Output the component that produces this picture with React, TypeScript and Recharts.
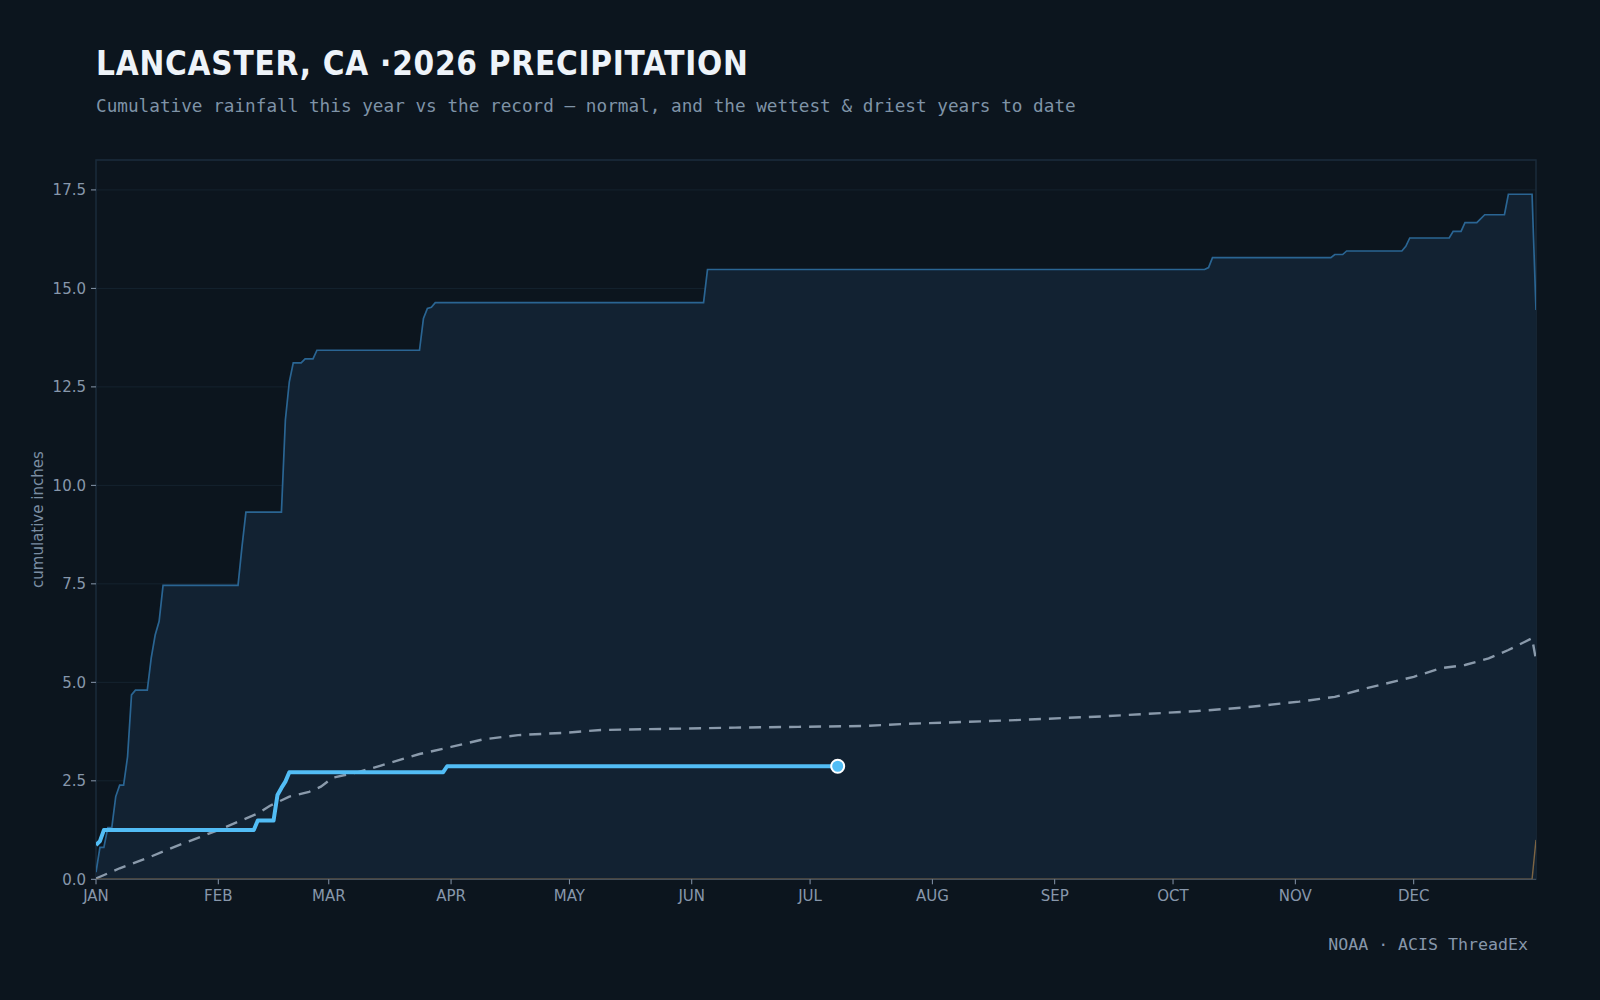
import React from 'react';
import {
  ComposedChart,
  Area,
  Line,
  XAxis,
  YAxis,
  CartesianGrid,
  ReferenceArea,
} from 'recharts';

// Day-of-year (0 = Jan 1) where each month starts, and the month labels.
const monthStarts = [0, 31, 59, 90, 120, 151, 181, 212, 243, 273, 304, 334];
const monthLabels = ['JAN', 'FEB', 'MAR', 'APR', 'MAY', 'JUN', 'JUL', 'AUG', 'SEP', 'OCT', 'NOV', 'DEC'];
const inchTicks = [0, 2.5, 5, 7.5, 10, 12.5, 15, 17.5];

// Wettest year on record, cumulative inches at each change of slope.
const wettestDays = [
  0, 1, 2, 3, 4, 5, 6, 7, 8, 9, 10, 13, 14, 15, 16, 17, 36, 37, 38, 47, 48, 49, 50, 52, 53, 55, 56,
  82, 83, 84, 85, 86, 154, 155, 281, 282, 283, 313, 314, 316, 317, 331, 332, 333, 343, 344, 346,
  347, 350, 352, 357, 358, 364, 365,
];
const wettestInches = [
  0.18, 0.81, 0.81, 1.31, 1.31, 2.1, 2.39, 2.39, 3.11, 4.68, 4.8, 4.8, 5.62, 6.2, 6.55, 7.46, 7.46,
  8.44, 9.32, 9.32, 11.66, 12.63, 13.11, 13.11, 13.21, 13.21, 13.43, 13.43, 14.24, 14.49, 14.52,
  14.64, 14.64, 15.48, 15.48, 15.53, 15.78, 15.78, 15.86, 15.86, 15.95, 15.95, 16.07, 16.28, 16.28,
  16.45, 16.45, 16.67, 16.67, 16.87, 16.87, 17.39, 17.39, 14.45,
];

// Normal (average) cumulative precipitation.
const normalDays = [
  0, 6, 14, 21, 31, 41, 44, 49, 54, 57, 60, 66, 72, 77, 82, 90, 98, 107, 119, 128, 145, 162, 178,
  194, 204, 233, 256, 279, 291, 305, 314, 322, 327, 334, 341, 347, 353, 358, 364, 365,
];
const normalInches = [
  0.02, 0.28, 0.58, 0.87, 1.25, 1.67, 1.86, 2.1, 2.22, 2.35, 2.58, 2.71, 2.88, 3.03, 3.18, 3.36,
  3.55, 3.66, 3.72, 3.79, 3.82, 3.85, 3.87, 3.89, 3.94, 4.04, 4.14, 4.27, 4.36, 4.51, 4.63, 4.85,
  4.97, 5.14, 5.36, 5.44, 5.61, 5.82, 6.12, 5.57,
];

// Driest year on record.
const driestDays = [0, 364, 365];
const driestInches = [0, 0, 1.0];

// 2026 so far.
const thisYearDays = [0, 1, 2, 40, 41, 45, 46, 47, 48, 49, 88, 89, 188];
const thisYearInches = [0.87, 0.97, 1.25, 1.25, 1.49, 1.49, 2.14, 2.32, 2.48, 2.72, 2.72, 2.87, 2.87];

const toPoints = (days: number[], inches: number[]) =>
  days.map((day, i) => ({ day, inches: inches[i] }));

const wettest = toPoints(wettestDays, wettestInches);
const normal = toPoints(normalDays, normalInches);
const driest = toPoints(driestDays, driestInches);
const thisYear = toPoints(thisYearDays, thisYearInches);

const yTop = Math.max(...wettestInches) * 1.05;

const BG = '#0c151e';
const MUTED = '#8797ab';
const SANS = "'DejaVu Sans', sans-serif";
const TITLE = "'DejaVu Sans Condensed', 'DejaVu Sans', sans-serif";
const MONO = "'DejaVu Sans Mono', monospace";

const LastDot = (props: any) => {
  const { cx, cy, index } = props;
  if (index !== thisYear.length - 1) return <g key={`d${index}`} />;
  return <circle key={`d${index}`} cx={cx} cy={cy} r={6.5} fill="#52bdf5" stroke="#ffffff" strokeWidth={2} />;
};

export default function App() {
  return (
    <div style={{ position: 'absolute', left: 0, top: 0, width: 1600, height: 1000, background: BG, overflow: 'hidden' }}>
      <div style={{ position: 'absolute', left: 0, top: 0 }}>
        <ComposedChart
          width={1600}
          height={1000}
          margin={{ top: 160, right: 64, bottom: 80.7, left: 36 }}
        >
          <CartesianGrid horizontal vertical={false} stroke="#15232f" strokeWidth={1} />
          <XAxis
            type="number"
            dataKey="day"
            domain={[0, 365]}
            ticks={monthStarts}
            tickFormatter={(v: number) => monthLabels[monthStarts.indexOf(v)] ?? ''}
            interval={0}
            height={40}
            tickSize={5}
            tickMargin={6}
            axisLine={{ stroke: '#4a5561', strokeWidth: 1 }}
            tickLine={{ stroke: MUTED }}
            tick={{ fill: MUTED, fontSize: 15, fontFamily: SANS }}
            allowDataOverflow
          />
          <YAxis
            type="number"
            domain={[0, yTop]}
            ticks={inchTicks}
            tickFormatter={(v: number) => v.toFixed(1)}
            width={60}
            tickSize={5}
            tickMargin={5}
            axisLine={false}
            tickLine={{ stroke: MUTED }}
            tick={{ fill: MUTED, fontSize: 15, fontFamily: SANS }}
            allowDataOverflow
          />
          <ReferenceArea x1={0} x2={365} y1={0} y2={yTop} fill="none" stroke="#1a2b3b" strokeWidth={1.5} />
          <Area
            data={wettest}
            dataKey="inches"
            type="linear"
            stroke="#2a6593"
            strokeWidth={1.7}
            fill="#122232"
            fillOpacity={1}
            isAnimationActive={false}
            dot={false}
            activeDot={false}
          />
          <Line
            data={normal}
            dataKey="inches"
            type="linear"
            stroke="#8a9aab"
            strokeWidth={2.4}
            strokeDasharray="12 8"
            dot={false}
            activeDot={false}
            isAnimationActive={false}
          />
          <Line
            data={driest}
            dataKey="inches"
            type="linear"
            stroke="#c4914e"
            strokeOpacity={0.6}
            strokeWidth={1.4}
            dot={false}
            activeDot={false}
            isAnimationActive={false}
          />
          <Line
            data={thisYear}
            dataKey="inches"
            type="linear"
            stroke="#52bdf5"
            strokeWidth={4}
            strokeLinejoin="round"
            dot={LastDot}
            activeDot={false}
            isAnimationActive={false}
          />
        </ComposedChart>
      </div>
      <svg
        width={1600}
        height={1000}
        style={{ position: 'absolute', left: 0, top: 0, pointerEvents: 'none' }}
      >
        <text
          x={96}
          y={75}
          fontFamily={TITLE}
          fontWeight={700}
          fontSize={33}
          letterSpacing={0.75}
          style={{ fontStretch: 'condensed' }}
          fill="#eef3f9"
        >
          LANCASTER, CA ·2026 PRECIPITATION
        </text>
        <text x={96} y={112} fontFamily={MONO} fontSize={17.7} fill="#7f93a7">
          Cumulative rainfall this year vs the record — normal, and the wettest &amp; driest years to date
        </text>
        <text
          x={38}
          y={519.6}
          transform="rotate(-90 38 519.6)"
          textAnchor="middle"
          dominantBaseline="central"
          fontFamily={SANS}
          fontSize={15}
          fill="#7b8ea3"
        >
          cumulative inches
        </text>
        <text x={1528} y={950} textAnchor="end" fontFamily={MONO} fontSize={16.6} fill={MUTED}>
          NOAA · ACIS ThreadEx
        </text>
      </svg>
    </div>
  );
}
